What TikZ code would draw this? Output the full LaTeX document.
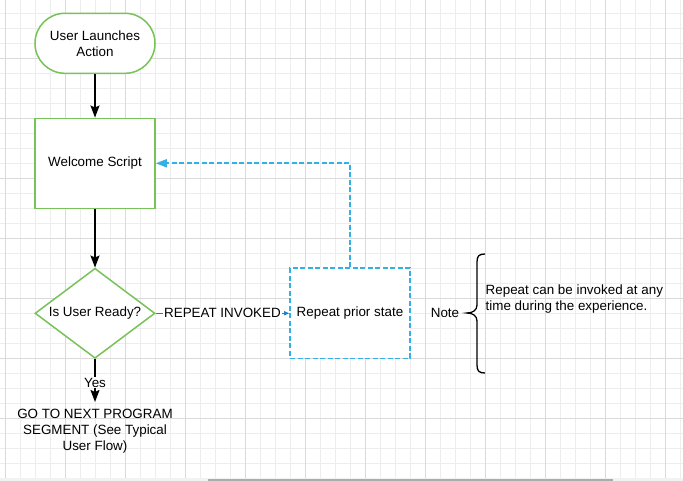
\documentclass[tikz,border=0pt]{standalone}
\usepackage{fontspec}
\setmainfont{Liberation Sans}
\usetikzlibrary{shapes.geometric,arrows.meta}
\definecolor{lgreen}{HTML}{78C25A}
\definecolor{lblue}{HTML}{33B0E5}
\definecolor{dblue}{HTML}{1E7FCB}
\definecolor{gminor}{HTML}{EDEDED}
\definecolor{gmajor}{HTML}{DADADA}
\tikzset{
  term/.style={draw=lgreen, line width=1.5pt, fill=white, rounded corners=29.9pt,
    minimum width=120pt, minimum height=60pt, align=center, inner sep=0pt},
  procbox/.style={draw=lgreen, line width=1.5pt, fill=white,
    minimum width=120pt, minimum height=90pt, align=center, inner sep=0pt},
  decision/.style={diamond, aspect=2, draw=lgreen, line width=1.5pt, fill=white,
    minimum width=120pt, minimum height=90pt, inner sep=0pt},
  dashbox/.style={draw=lblue, line width=1.6pt, dash pattern=on 5pt off 2.5pt, fill=white,
    minimum width=120pt, minimum height=90pt, inner sep=0pt},
  conn/.style={black, line width=1.6pt, -{Stealth[length=12pt,width=9pt,inset=2pt]}},
  lbl/.style={fill=white, inner sep=1pt, text=black},
}
\begin{document}
\begin{tikzpicture}[x=1pt,y=-1pt, font=\fontsize{13.4}{16}\selectfont]
\useasboundingbox (0,0) rectangle (683,481);
\fill[white] (0,0) rectangle (683,481);
% grid
\foreach \k in {0,...,45} \draw[gminor, line width=1pt] ({5+15*\k},0) -- ({5+15*\k},478);
\foreach \k in {1,...,31} \draw[gminor, line width=1pt] (0,{-1.7+15*\k}) -- (683,{-1.7+15*\k});
\foreach \k in {0,...,11} \draw[gmajor, line width=1pt] ({5+60*\k},0) -- ({5+60*\k},478);
\foreach \k in {1,...,7} \draw[gmajor, line width=1pt] (0,{-1.7+60*\k}) -- (683,{-1.7+60*\k});
\fill[gray!10] (0,478) rectangle (683,481);
\draw[gray!65, line width=1.5pt] (208,480) -- (613,480);
% nodes
\node[term] (start) at (95,43.3) {User Launches\\Action};
\node[procbox] (welcome) at (95,163.3) {Welcome Script};
\node[decision] (ready) at (95,313.3) {Is User Ready?};
\node[dashbox] (repeat) at (350,313.3) {Repeat prior state};
\node[anchor=north, align=center, inner sep=3pt] (goto) at (95,406) {GO TO NEXT PROGRAM\\SEGMENT (See Typical\\User Flow)};
\node (note) at (445,312.5) {Note};
\node[anchor=north west, align=left, inner sep=0pt] (notetext) at (485.5,284.5) {Repeat can be invoked at any\\time during the experience.};
% connectors
\draw[conn] (start) -- (welcome);
\draw[conn] (welcome) -- (ready);
\draw[conn, shorten >=4pt] (ready) -- node[lbl] {Yes} (goto);
\draw[dblue, line width=1.2pt, -{Triangle[length=5pt,width=4pt]}] (ready) -- node[lbl] {REPEAT INVOKED} (repeat);
\draw[lblue, line width=1.6pt, dash pattern=on 5pt off 2.5pt, -{Triangle[length=11pt,width=8pt]}] (repeat.north) |- (welcome.east);
% brace
\draw[black, line width=1.3pt] (485,254) .. controls (479,254) and (477,256) .. (477,262) -- (477,305)
  .. controls (477,310) and (473,313) .. (467,313) .. controls (473,313) and (477,316) .. (477,321)
  -- (477,365) .. controls (477,371) and (479,373) .. (485,373);
\end{tikzpicture}
\end{document}
